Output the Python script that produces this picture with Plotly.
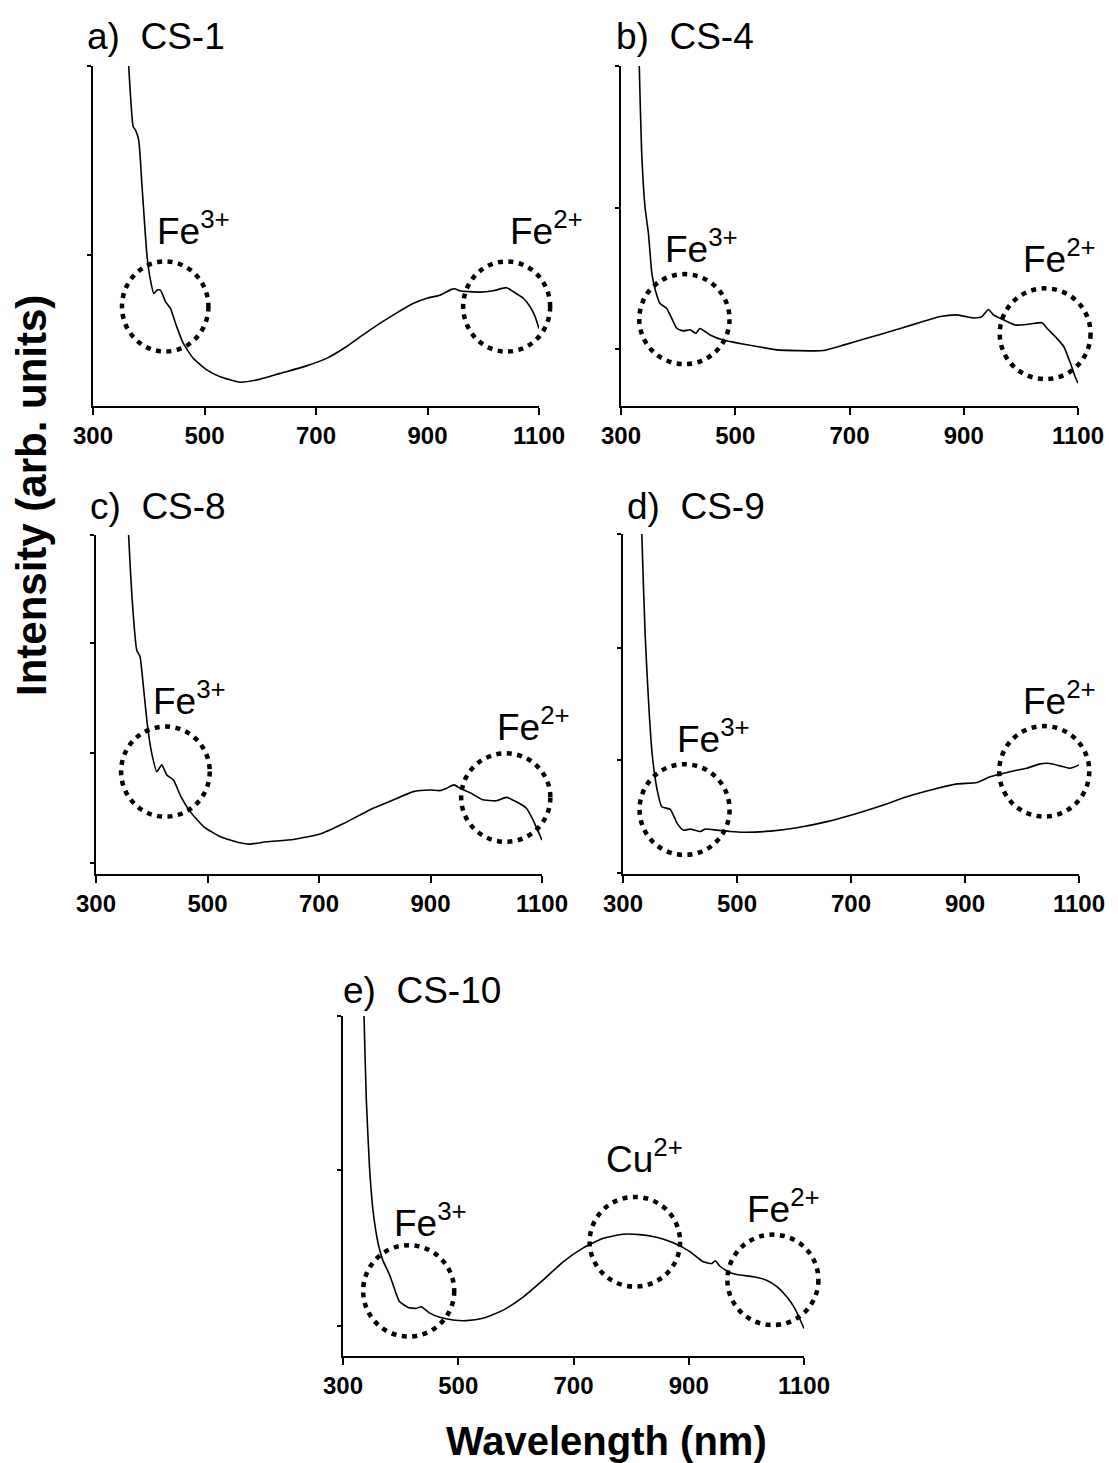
import plotly.graph_objects as go

W, H = 1118, 1463

# ---------------- data (intensity in arbitrary units, 0-100 = axis span) ----------------
wl_a = [360, 364, 372, 376, 382, 388, 397, 403, 409, 415, 421, 430, 439, 448, 462, 480, 504, 528, 564,
        600, 636, 683, 719, 755, 797, 839, 875, 899, 922, 943, 949, 958, 994, 1018, 1042, 1054, 1072,
        1084, 1093, 1100]
I_a = [112, 100, 82.2, 81.2, 78.2, 64.5, 43.9, 37.1, 33.1, 34.1, 34.1, 30.7, 28.7, 24.3, 18.4, 14.0,
       10.6, 8.6, 7.0, 7.9, 9.6, 11.8, 14.0, 17.5, 22.4, 26.8, 30.2, 31.7, 32.6, 34.3, 34.5, 33.9, 33.5,
       33.9, 34.8, 33.6, 31.7, 29.2, 26.3, 22.8]

wl_b = [330, 332, 336, 342, 348, 354, 360, 368, 380, 386, 398, 409, 421, 431, 438, 456, 479, 508, 538,
        573, 608, 654, 689, 730, 771, 818, 859, 888, 917, 932, 943, 952, 970, 990, 1016, 1037, 1046,
        1063, 1075, 1087, 1095, 1100]
I_b = [115, 100, 75.3, 58.6, 50.8, 39.0, 34.1, 30.2, 28.7, 26.8, 22.8, 22.1, 22.4, 21.4, 22.8, 20.9,
       19.4, 18.4, 17.5, 16.5, 16.3, 16.3, 17.9, 19.9, 21.9, 24.3, 26.3, 26.8, 25.9, 26.3, 28.4, 26.8,
       25.3, 23.8, 24.1, 24.5, 22.8, 19.9, 17.5, 12.5, 8.6, 6.7]

wl_c = [356, 358.5, 364.5, 373, 379, 385, 392.5, 400, 409, 418, 427, 439, 451, 469, 493, 523, 558, 576,
        606, 654, 702, 744, 791, 833, 869, 899, 917, 929, 942, 953, 971, 992, 1018, 1036, 1054, 1072,
        1084, 1100]
I_c = [115, 100, 81.8, 66.1, 64.1, 55.3, 43.5, 35.6, 30.2, 32.2, 29.2, 27.7, 23.3, 18.4, 14.0, 11.0,
       9.2, 8.8, 9.5, 10.2, 11.8, 14.9, 18.9, 21.8, 24.3, 24.8, 24.6, 25.3, 26.3, 25.3, 24.0, 22.0, 21.6,
       22.6, 21.3, 19.4, 15.9, 10.0]

wl_d = [332, 333, 339, 345, 351, 360, 368, 383, 395, 406, 418, 436, 444, 465, 488, 512, 558, 605, 658,
        710, 757, 798, 845, 886, 921, 944, 979, 1008, 1032, 1049, 1067, 1084, 1100]
I_d = [110, 100, 69.8, 50.2, 35.5, 24.7, 19.8, 19.0, 14.9, 12.9, 13.2, 12.5, 13.2, 12.9, 12.5, 12.3,
       12.6, 13.6, 15.4, 17.8, 20.3, 22.7, 24.9, 26.5, 26.9, 28.6, 30.1, 31.1, 32.4, 32.5, 31.8, 31.1,
       32.1]

wl_e = [335, 336.5, 340.5, 346, 352, 361, 369, 381, 390, 398, 413, 427, 436, 450, 468, 491, 514, 543,
        578, 613, 647, 682, 717, 752, 786, 815, 844, 873, 902, 925, 940, 946, 954, 972, 989, 1012, 1035,
        1053, 1070, 1084, 1100]
I_e = [112, 100, 75.2, 55.6, 42.9, 33.1, 28.2, 23.8, 19.4, 16.0, 14.3, 14.0, 14.5, 12.7, 11.4, 10.6,
       10.4, 11.1, 13.5, 17.4, 22.3, 27.7, 31.8, 34.6, 35.8, 35.7, 34.9, 33.3, 30.7, 27.7, 27.2, 28.0,
       26.4, 24.5, 23.8, 23.3, 22.3, 20.4, 17.4, 14.0, 8.1]

x_ticks = [300, 500, 700, 900, 1100]
panel_labels = ["a)\u00a0\u00a0CS-1", "b)\u00a0\u00a0CS-4", "c)\u00a0\u00a0CS-8", "d)\u00a0\u00a0CS-9", "e)\u00a0\u00a0CS-10"]
ion_labels = {"Fe3": "Fe<sup>3+</sup>", "Fe2": "Fe<sup>2+</sup>", "Cu2": "Cu<sup>2+</sup>"}

# circled regions (x0, x1 in nm; y0, y1 in intensity units)
circles = [
    [(352, 507, 16.0, 42.5), (964, 1120, 16.0, 42.5)],
    [(332, 490, 12.3, 38.8), (963, 1122, 7.9, 34.6)],
    [(345, 504, 16.9, 43.5), (955, 1115, 9.5, 35.6)],
    [(329, 487, 5.6, 32.3), (960, 1118, 16.9, 43.5)],
    [(335, 493, 5.7, 32.6), (728, 885, 20.4, 46.8), (967, 1125, 9.1, 35.7)],
]

# ---------------- layout geometry (pixels) ----------------
boxes = [(93, 539, 66, 406), (621, 1078, 66, 406), (96, 542, 535, 874),
         (623, 1079, 534, 874), (343, 804, 1016, 1356)]
y_tickvals = [[100, 44.4], [100, 58.2, 16.8], [100, 68.2, 35.8, 3.3],
              [100, 66.6, 33.4, 0.3], [100, 54.7, 8.9]]
title_pos = [(85, 36), (614, 36), (88, 506), (625, 506), (341, 990)]
ion_pos = [
    [("Fe3", 155, 228), ("Fe2", 508, 228)],
    [("Fe3", 663, 247), ("Fe2", 1021, 257)],
    [("Fe3", 151, 698), ("Fe2", 495, 724)],
    [("Fe3", 675, 736), ("Fe2", 1021, 698)],
    [("Fe3", 392, 1220), ("Cu2", 604, 1156), ("Fe2", 745, 1206)],
]
X_RANGE = [300, 1100]
Y_RANGE = [0, 100]

FONT = "Liberation Sans, Arial, sans-serif"
series = [(wl_a, I_a), (wl_b, I_b), (wl_c, I_c), (wl_d, I_d), (wl_e, I_e)]

fig = go.Figure()
layout = {}
shapes = []
annotations = []

def px(x):
    return x / W

def py(y):
    return 1 - y / H

for i, ((wl, inten), (x0, x1, y0, y1)) in enumerate(zip(series, boxes)):
    n = "" if i == 0 else str(i + 1)
    xd = [px(x0), px(x1)]
    yd = [py(y1), py(y0)]
    fig.add_trace(go.Scatter(x=wl, y=inten, mode="lines", xaxis="x" + n, yaxis="y" + n,
                             line=dict(color="black", width=1.6, shape="spline", smoothing=0.5),
                             showlegend=False, hoverinfo="skip"))
    layout["xaxis" + n] = dict(
        domain=xd, anchor="y" + n, range=X_RANGE, automargin=False,
        tickvals=x_ticks, ticks="outside", ticklen=7, tickwidth=2, tickcolor="black",
        showline=True, linewidth=2, linecolor="black", showgrid=False, zeroline=False,
        tickfont=dict(family=FONT, size=24, color="black", weight="bold"),
    )
    layout["yaxis" + n] = dict(
        domain=yd, anchor="x" + n, range=Y_RANGE, automargin=False,
        tickvals=y_tickvals[i], showticklabels=False, ticks="outside", ticklen=4,
        tickwidth=2, tickcolor="black", showline=True, linewidth=2, linecolor="black",
        showgrid=False, zeroline=False,
    )

    # dotted circles: map axis units to paper so they are not clipped at the axes' ends
    def to_px(v):
        return xd[0] + (v - X_RANGE[0]) / (X_RANGE[1] - X_RANGE[0]) * (xd[1] - xd[0])

    def to_py(v):
        return yd[0] + (v - Y_RANGE[0]) / (Y_RANGE[1] - Y_RANGE[0]) * (yd[1] - yd[0])

    for (cx0, cx1, cy0, cy1) in circles[i]:
        shapes.append(dict(type="circle", xref="paper", yref="paper",
                           x0=to_px(cx0), x1=to_px(cx1), y0=to_py(cy0), y1=to_py(cy1),
                           line=dict(color="black", width=4.5, dash="5px,5.5px")))
    tx, ty = title_pos[i]
    annotations.append(dict(text=panel_labels[i], x=px(tx), y=py(ty), xref="paper", yref="paper",
                            xanchor="left", yanchor="middle", showarrow=False,
                            font=dict(family=FONT, size=37, color="black")))
    for key, ax, ay in ion_pos[i]:
        annotations.append(dict(text=ion_labels[key], x=px(ax), y=py(ay), xref="paper", yref="paper",
                                xanchor="left", yanchor="middle", showarrow=False,
                                font=dict(family=FONT, size=37, color="black")))

annotations.append(dict(text="Intensity (arb. units)", x=px(32), y=py(496), xref="paper", yref="paper",
                        xanchor="center", yanchor="middle", textangle=-90, showarrow=False,
                        font=dict(family=FONT, size=42, color="black", weight="bold")))
annotations.append(dict(text="Wavelength (nm)", x=px(606), y=py(1441), xref="paper", yref="paper",
                        xanchor="center", yanchor="middle", showarrow=False,
                        font=dict(family=FONT, size=40, color="black", weight="bold")))

fig.update_layout(template="none", width=W, height=H, margin=dict(l=0, r=0, t=0, b=0, pad=0),
                  autosize=False, paper_bgcolor="white", plot_bgcolor="white",
                  shapes=shapes, annotations=annotations, **layout)

fig.write_html("out.html", config={"displayModeBar": False},
               post_script="document.body.style.margin='0px';document.body.style.overflow='hidden';")
